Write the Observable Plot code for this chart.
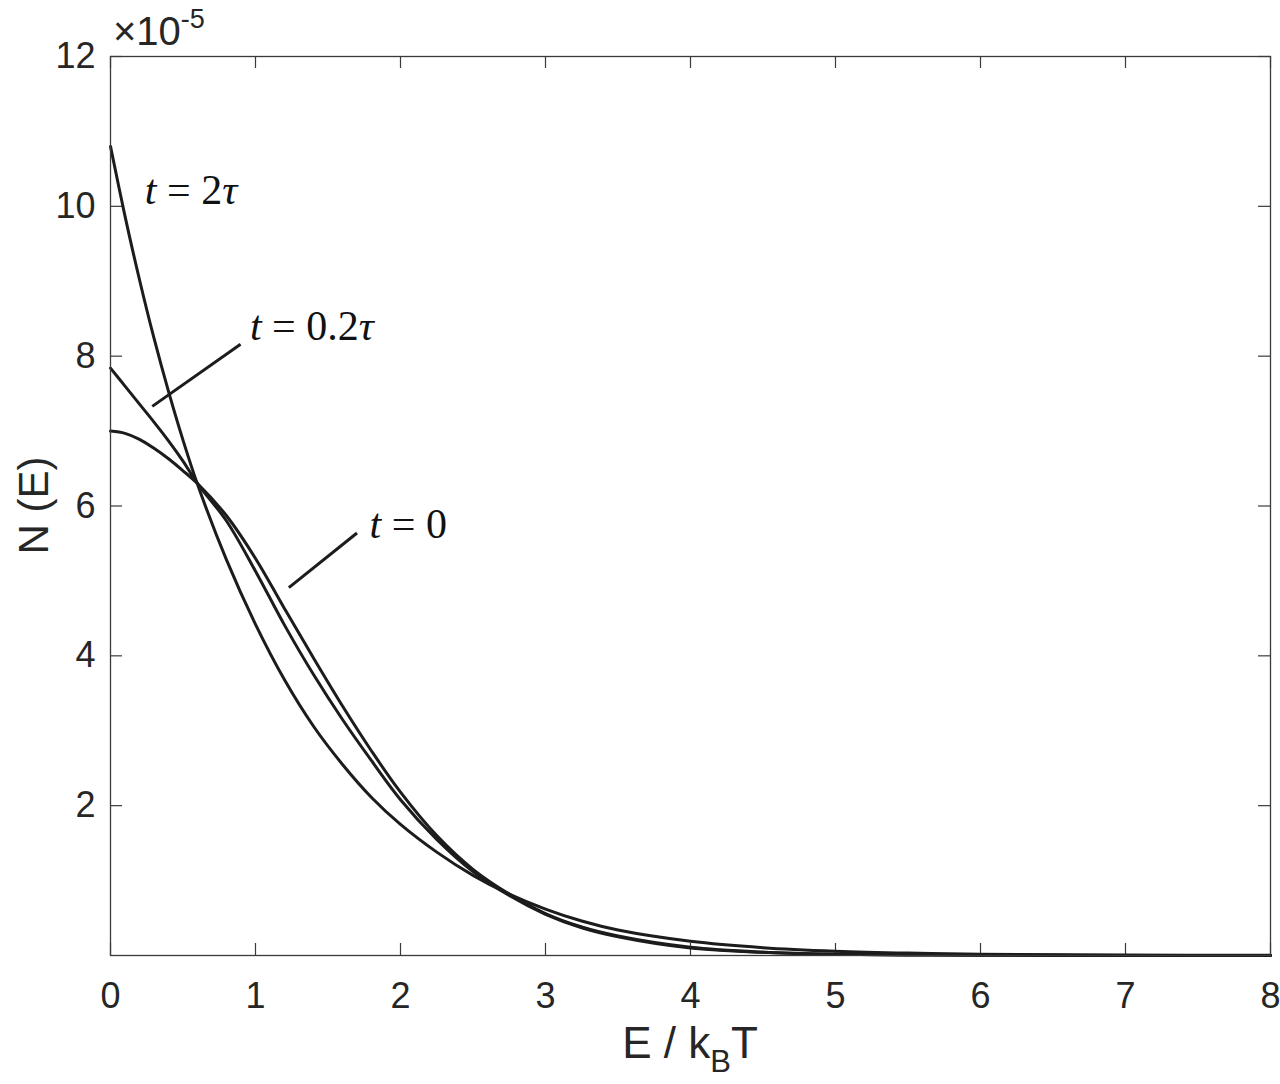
<!DOCTYPE html>
<html>
<head>
<meta charset="utf-8">
<script src="https://cdn.jsdelivr.net/npm/d3@7"></script>
<script src="https://cdn.jsdelivr.net/npm/@observablehq/plot@0.6"></script>
<style>
  html, body { margin: 0; padding: 0; background: #fff; }
  #chart { width: 1280px; height: 1084px; }
</style>
</head>
<body>
<div id="chart"></div>
<script>
// ---- Data (N(E) in units of 1e-5, E in units of k_B T) ----
const energy = [0, 0.1, 0.2, 0.3, 0.4, 0.5, 0.6, 0.8, 1.0, 1.2, 1.4, 1.6, 1.8, 2.0, 2.25, 2.5, 2.75, 3.0, 3.25, 3.5, 4.0, 4.5, 5.0, 5.5, 6.0, 7.0, 8.0];
const n_t0   = [7.00, 6.97, 6.89, 6.77, 6.63, 6.47, 6.30, 5.87, 5.30, 4.63, 3.97, 3.33, 2.73, 2.18, 1.60, 1.15, 0.82, 0.56, 0.38, 0.26, 0.11, 0.045, 0.018, 0.007, 0.003, 0.0005, 0.0];
const n_t02  = [7.84, 7.60, 7.36, 7.12, 6.87, 6.60, 6.30, 5.80, 5.13, 4.41, 3.75, 3.15, 2.60, 2.08, 1.55, 1.12, 0.80, 0.55, 0.37, 0.25, 0.10, 0.042, 0.017, 0.007, 0.003, 0.0005, 0.0];
const n_t2   = [10.80, 9.87, 9.02, 8.24, 7.53, 6.88, 6.29, 5.28, 4.42, 3.68, 3.06, 2.55, 2.11, 1.75, 1.38, 1.07, 0.82, 0.62, 0.46, 0.34, 0.19, 0.105, 0.058, 0.032, 0.018, 0.006, 0.002];
const seriesNames = ["t = 0", "t = 0.2τ", "t = 2τ"];
const xTicks = [0, 1, 2, 3, 4, 5, 6, 7, 8];
const yTicks = [2, 4, 6, 8, 10, 12];

// annotation labels (data coordinates) and their pointer lines
const labelText = [["t", " = 2", "τ"], ["t", " = 0.2", "τ"], ["t", " = 0", ""]];
const labelX = [0.24, 0.965, 1.79];
const labelY = [10.03, 8.21, 5.57];
const pointerX1 = [0.288, 1.23];
const pointerY1 = [7.33, 4.91];
const pointerX2 = [0.897, 1.70];
const pointerY2 = [8.16, 5.64];

// ---- Build tables ----
const seriesValues = [n_t0, n_t02, n_t2];
const rows = [];
seriesValues.forEach((vals, s) => energy.forEach((e, i) => rows.push({E: e, N: vals[i], series: seriesNames[s]})));
const pointers = pointerX1.map((d, i) => ({x1: d, y1: pointerY1[i], x2: pointerX2[i], y2: pointerY2[i]}));

const W = 1280, H = 1084;
const mL = 110, mR = 10, mT = 56, mB = 129;
const frameW = W - mL - mR, frameH = H - mT - mB;
const tickLen = 12;
const axisColor = "#3a3a3a";
const inkColor = "#1c1c1c";

const plot = Plot.plot({
  width: W,
  height: H,
  marginLeft: mL,
  marginRight: mR,
  marginTop: mT,
  marginBottom: mB,
  style: {fontFamily: "'Liberation Sans', Arial, Helvetica, sans-serif", fontSize: "36px", color: "#262626", background: "#fff"},
  x: {domain: [0, 8], ticks: xTicks, tickSize: 0, tickPadding: 27, label: null},
  y: {domain: [0, 12], ticks: yTicks, tickSize: 0, tickPadding: 15, label: null},
  marks: [
    Plot.ruleX(xTicks, {x: d => d, insetTop: frameH - tickLen, stroke: axisColor, strokeWidth: 1.2}),
    Plot.ruleX(xTicks, {x: d => d, insetBottom: frameH - tickLen, stroke: axisColor, strokeWidth: 1.2}),
    Plot.ruleY(yTicks, {y: d => d, insetRight: frameW - tickLen, stroke: axisColor, strokeWidth: 1.2}),
    Plot.ruleY(yTicks, {y: d => d, insetLeft: frameW - tickLen, stroke: axisColor, strokeWidth: 1.2}),
    Plot.line(rows, {x: "E", y: "N", z: "series", curve: "catmull-rom", stroke: inkColor, strokeWidth: 3}),
    Plot.link(pointers, {x1: "x1", y1: "y1", x2: "x2", y2: "y2", stroke: inkColor, strokeWidth: 3}),
    Plot.frame({stroke: axisColor, strokeWidth: 1.3})
  ]
});

document.getElementById("chart").appendChild(plot);

// ---- Extra text: labels with math styling, axis titles, exponent ----
const svg = d3.select(plot);
const sx = plot.scale("x"), sy = plot.scale("y");

labelText.forEach((parts, i) => {
  const t = svg.append("text")
    .attr("x", sx.apply(labelX[i]))
    .attr("y", sy.apply(labelY[i]))
    .attr("text-anchor", "start")
    .attr("font-family", "'Liberation Serif', 'DejaVu Serif', serif")
    .attr("font-size", 42)
    .attr("fill", "#111")
    .attr("xml:space", "preserve")
    .style("white-space", "pre");
  t.append("tspan").attr("font-style", "italic").text(parts[0]);
  t.append("tspan").text(parts[1]);
  if (parts[2]) t.append("tspan").attr("font-style", "italic").text(parts[2]);
});

// x axis title: E / k_B T
const xt = svg.append("text")
  .attr("x", mL + frameW * 0.5)
  .attr("y", 1058)
  .attr("text-anchor", "middle")
  .attr("font-family", "'Liberation Sans', Arial, sans-serif")
  .attr("font-size", 44)
  .attr("fill", "#262626");
xt.append("tspan").text("E / k");
xt.append("tspan").attr("font-size", 31).attr("dy", 14).text("B");
xt.append("tspan").attr("dy", -14).text("T");

// y axis title
svg.append("text")
  .attr("transform", `translate(48, ${mT + frameH * 0.5}) rotate(-90)`)
  .attr("text-anchor", "middle")
  .attr("font-family", "'Liberation Sans', Arial, sans-serif")
  .attr("font-size", 42)
  .attr("fill", "#262626")
  .text("N (E)");

// exponent ×10^-5
const ex = svg.append("text")
  .attr("x", 113)
  .attr("y", 45)
  .attr("text-anchor", "start")
  .attr("font-family", "'Liberation Sans', Arial, sans-serif")
  .attr("font-size", 40)
  .attr("fill", "#262626");
ex.append("tspan").text("×10");
ex.append("tspan").attr("font-size", 27).attr("dy", -17).text("-5");
</script>
</body>
</html>
